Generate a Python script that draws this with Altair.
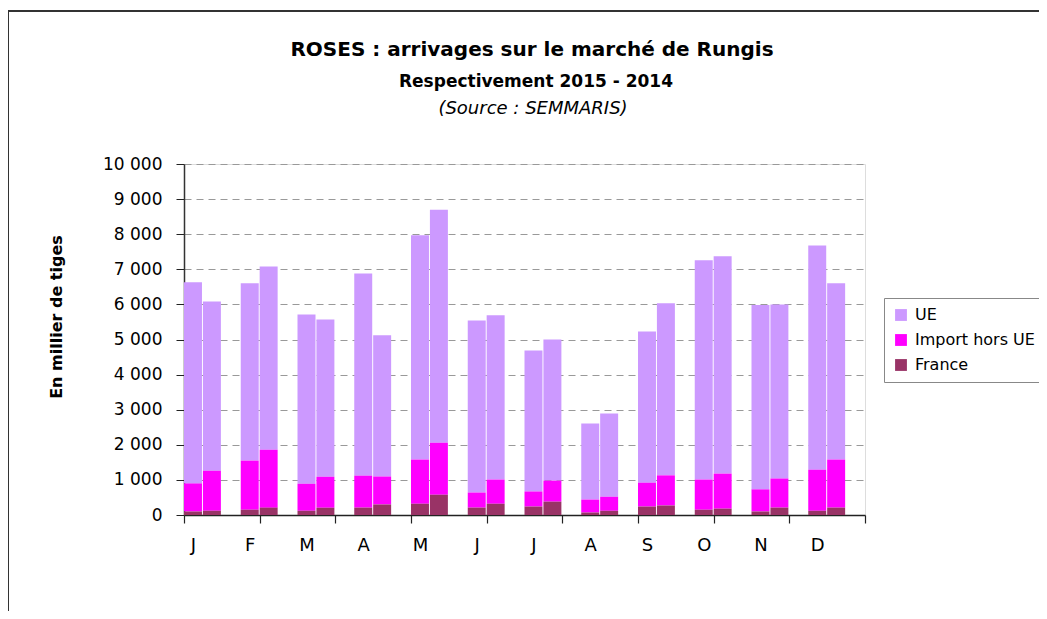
import altair as alt
import pandas as pd

months = ["J", "F", "M", "A", "M", "J", "J", "A", "S", "O", "N", "D"]
years = ["2015", "2014"]
series = ["UE", "Import hors UE", "France"]
colors = ["#CC99FF", "#FF00FF", "#993366"]

france_2015 = [100, 150, 120, 210, 320, 210, 240, 70, 240, 150, 100, 120]
france_2014 = [120, 210, 210, 300, 580, 320, 380, 120, 270, 180, 210, 210]
import_2015 = [800, 1400, 770, 910, 1260, 430, 430, 370, 680, 860, 630, 1170]
import_2014 = [1140, 1650, 880, 800, 1480, 690, 600, 400, 860, 1000, 830, 1370]
ue_2015 = [5730, 5050, 4820, 5760, 6390, 4900, 4020, 2170, 4310, 6250, 5250, 6390]
ue_2014 = [4820, 5220, 4480, 4020, 6640, 4680, 4020, 2370, 4900, 6190, 4960, 5020]

y_ticks = list(range(0, 10001, 1000))

FONT = "DejaVu Sans"

rows = []
vals = {
    "2015": {"France": france_2015, "Import hors UE": import_2015, "UE": ue_2015},
    "2014": {"France": france_2014, "Import hors UE": import_2014, "UE": ue_2014},
}
rank = {"France": 0, "Import hors UE": 1, "UE": 2}
for i, m in enumerate(months):
    for j, yr in enumerate(years):
        for s in series:
            rows.append({"month": m, "year": yr, "slot": 3 * i + j,
                         "serie": s, "rank": rank[s], "value": vals[yr][s][i]})
df = pd.DataFrame(rows)

lab_df = pd.DataFrame({"month": months, "slot": [3 * i for i in range(len(months))]})

W, H = 681, 351

xscale = alt.Scale(domain=[0, 36], nice=False, zero=False)
yscale = alt.Scale(domain=[0, 10000], nice=False)

bars = alt.Chart(df).transform_stack(
    stack="value", as_=["v0", "v1"], groupby=["slot"],
    sort=[alt.SortField("rank", order="ascending")]
).transform_calculate(
    xa="datum.slot", xb="datum.slot + 0.95"
).mark_bar().encode(
    x=alt.X("xa:Q", scale=xscale, axis=alt.Axis(
        values=list(range(37)), labels=False, title=None, grid=False,
        tickSize=8, tickColor="#222", domainColor="#222", domainWidth=1.5, tickWidth=1.2)),
    x2="xb:Q",
    y=alt.Y("v0:Q", scale=yscale, axis=alt.Axis(
        values=y_ticks, title=None, grid=True, gridDash=[7, 5], gridColor="#999",
        gridWidth=1, tickSize=8, tickColor="#222", domainColor="#333", domainWidth=1.5,
        labelPadding=14, labelFontSize=17, labelFont=FONT, labelColor="#000",
        labelExpr="replace(format(datum.value, ','), ',', ' ')")),
    y2="v1:Q",
    color=alt.Color("serie:N", scale=alt.Scale(domain=series, range=colors),
                    legend=alt.Legend(title=None, orient="none", legendX=700, legendY=134,
                                      symbolType="square", symbolSize=140,
                                      symbolStrokeWidth=0, labelFontSize=16,
                                      labelFont=FONT, labelColor="#000",
                                      labelOffset=6, rowPadding=9, padding=9,
                                      strokeColor="#888", fillColor="white")),
)

month_text = alt.Chart(lab_df).transform_calculate(
    pos="datum.slot + 0.5"
).mark_text(fontSize=18, font=FONT, baseline="middle", align="center", color="#000").encode(
    x=alt.X("pos:Q", scale=xscale),
    y=alt.value(382),
    text="month:N",
)

one = pd.DataFrame({"t": ["ROSES : arrivages sur le marché de Rungis"]})
title = alt.Chart(one).mark_text(fontSize=20, font=FONT, fontWeight="bold",
                                 align="center", baseline="alphabetic", color="#000").encode(
    x=alt.value(348), y=alt.value(-108), text="t:N")
sub = alt.Chart(pd.DataFrame({"t": ["Respectivement 2015 - 2014"]})).mark_text(
    fontSize=17, font=FONT, fontWeight="bold", align="center", baseline="alphabetic",
    color="#000").encode(x=alt.value(352), y=alt.value(-77), text="t:N")
src = alt.Chart(pd.DataFrame({"t": ["(Source : SEMMARIS)"]})).mark_text(
    fontSize=18, font=FONT, fontStyle="italic", align="center", baseline="alphabetic",
    color="#000").encode(x=alt.value(349), y=alt.value(-50), text="t:N")
ytitle = alt.Chart(pd.DataFrame({"t": ["En millier de tiges"]})).mark_text(
    fontSize=16, font=FONT, fontWeight="bold", align="center", baseline="middle",
    angle=270, color="#000").encode(x=alt.value(-127), y=alt.value(153), text="t:N")

frame_df = pd.DataFrame({"a": [0]})
frame_v = alt.Chart(frame_df).mark_rule(color="#333", strokeWidth=2).encode(
    x=alt.value(-176), y=alt.value(-153), y2=alt.value(470))
frame_h = alt.Chart(frame_df).mark_rule(color="#333", strokeWidth=2).encode(
    x=alt.value(-177), x2=alt.value(900), y=alt.value(-153))

chart = alt.layer(bars, month_text, title, sub, src, ytitle, frame_v, frame_h).properties(
    width=W, height=H,
    autosize=alt.AutoSizeParams(type="none"),
    padding={"left": 176, "top": 156, "right": 174, "bottom": 96},
).configure_view(stroke="#999", strokeWidth=1.5).configure(background="white")

chart.save("out.html", embed_options={"renderer": "svg", "actions": False})
